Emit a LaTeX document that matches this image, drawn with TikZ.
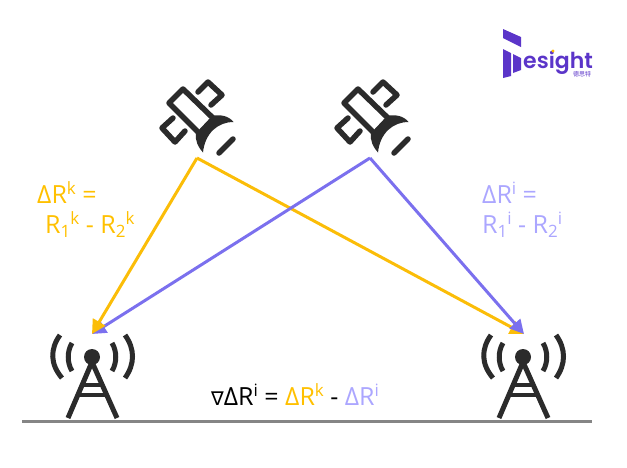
\documentclass[tikz,border=0pt]{standalone}
\usepackage{fontspec}
\setmainfont{Open Sans}
\newfontfamily\logofont{Poppins SemiBold}
\newfontfamily\cjkfont{Noto Sans CJK SC}
\newfontfamily\symfont{DejaVu Sans}
\usetikzlibrary{arrows.meta}
\definecolor{amberc}{HTML}{FFC000}
\definecolor{arrowy}{HTML}{FBBD08}
\definecolor{lilac}{HTML}{ABA6FF}
\definecolor{arrowp}{HTML}{7B70EE}
\definecolor{icon}{HTML}{2B2B2B}
\definecolor{logop}{HTML}{5B35C9}
\definecolor{groundc}{HTML}{858585}
\newcommand{\supr}[1]{\raisebox{9pt}{\fontsize{17}{19}\selectfont #1}}
\newcommand{\subr}[1]{\raisebox{-4pt}{\fontsize{17}{19}\selectfont #1}}
\tikzset{
  x=1pt,y=-1pt,
  iconline/.style={draw=icon,line width=5.5pt,line join=round,line cap=round},
  iconthin/.style={draw=icon,line width=5pt,line cap=butt},
  signal/.style={arrowy,line width=3pt,line join=round,-{Triangle[length=14pt,width=14pt]}},
  signalp/.style={arrowp,line width=3pt,line join=round,-{Triangle[length=14pt,width=14pt]}},
  lbl/.style={inner sep=0pt,anchor=base west,font=\fontsize{25}{29}\selectfont},
  satellite/.pic={
    \draw[iconline] (183,89)--(169,103)--(200,134)--(214,119)--cycle;
    \draw[iconline] (198,92)--(208,82)--(222,95)--(211,105);
    \draw[iconline] (173,118)--(162,128)--(175,142)--(185,131);
    \draw[iconline] (219,153)--(233,139);
    \fill[icon] (212,116) .. controls (220,114) and (229,116) .. (233.5,122)
      .. controls (218,122) and (205,133) .. (203,152.5)
      .. controls (198,147) and (195,141) .. (196,133) -- cycle;
  },
  tower/.pic={
    \fill[icon] (92,357) circle (8);
    \draw[iconthin] (92,362)--(68,418) (92,362)--(117,418);
    \draw[icon,line width=4pt] (83,385)--(101,385) (78,395)--(106,395);
    \draw[iconthin] (72,343) .. controls (67,351) and (67,363) .. (72,371);
    \draw[iconthin] (112,343) .. controls (117,351) and (117,363) .. (112,371);
    \draw[iconthin] (60,335) .. controls (50,349) and (50,364) .. (62,378);
    \draw[iconthin] (125,335) .. controls (135,349) and (135,364) .. (125,378);
  }
}
\begin{document}
\begin{tikzpicture}
\useasboundingbox (0,0) rectangle (627,467);
% ground
\draw[groundc,line width=3pt] (22,421)--(592,421);
% icons
\pic at (0,0) {satellite};
\pic at (175,0) {satellite};
\pic at (0,0) {tower};
\pic at (431,0) {tower};
% connection points
\coordinate (satk) at (197,158);
\coordinate (sati) at (370,158);
\coordinate (rxa) at (92,334);
\coordinate (rxb) at (524,334);
\draw[signal] (satk)--(rxb);
\draw[signalp] (sati)--(rxb);
\draw[signalp] (sati)--(rxa);
\draw[signal] (satk)--(rxa);
% labels
\node[lbl,text=amberc] (dk) at (37,203) {ΔR\supr{k} =};
\node[lbl,text=amberc] (rk) at (45,233) {R\subr{1}\supr{k} - R\subr{2}\supr{k}};
\node[lbl,text=lilac] (di) at (482,203) {ΔR\supr{i} =};
\node[lbl,text=lilac] (ri) at (482,233) {R\subr{1}\supr{i} - R\subr{2}\supr{i}};
\node[lbl] (eq) at (211,405) {{\symfont\fontsize{19}{22}\selectfont ∇}ΔR\supr{i} = \textcolor{amberc}{ΔR\supr{k}} - \textcolor{lilac}{ΔR\supr{i}}};
% logo
\fill[logop] (503,29)--(521,37)--(521,47)--(503,38)--cycle;
\fill[logop] (503,49)--(511,53)--(511,76)--(503,78)--cycle;
\fill[logop] (513,54)--(521,58)--(521,70)--(513,73)--cycle;
\node[inner sep=0pt,anchor=base west,text=logop,font=\logofont\fontsize{22}{26}\selectfont] (logo) at (523,68) {esight};
\fill[amberc] (553,51) circle (1.6);
\node[inner sep=0pt,anchor=center,text=logop,font=\cjkfont\fontsize{6}{7}\selectfont] (logocn) at (582,74) {德思特};
\end{tikzpicture}
\end{document}
